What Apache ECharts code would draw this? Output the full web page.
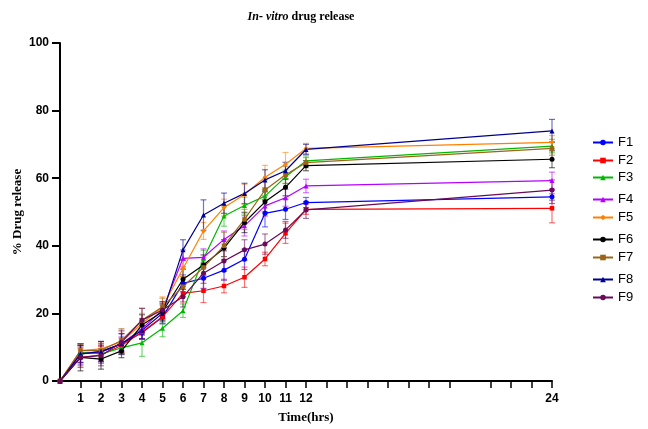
<!DOCTYPE html>
<html><head><meta charset="utf-8">
<script src="https://cdn.jsdelivr.net/npm/echarts@6/dist/echarts.min.js"></script>
<style>html,body{margin:0;padding:0;background:#fff}#c{width:648px;height:429px}</style>
</head><body><div id="c"></div>
<script>
var times = [0,1,2,3,4,5,6,7,8,9,10,11,12,24];
var xCategories = ['0','1','2','3','4','5','6','7','8','9','10','11','12','13','14','15','16','17','18','19','20','21','22','23','24'];
var xTickLabels = ['1','2','3','4','5','6','7','8','9','10','11','12','24'];
var yTicks = [0,20,40,60,80,100];
var names = ['F1','F2','F3','F4','F5','F6','F7','F8','F9'];
var colors = ['#0000ff','#ff0000','#00b800','#b400ff','#ff8000','#000000','#9c6416','#000090','#6a0a5a'];
var symbols = ['circle','rect','triangle','triangle','diamond','circle','rect','triangle','circle'];

var F1 = [0,8,8.7,11,14.3,18.9,28.9,30.4,32.8,36,49.6,50.8,52.8,54.5];
var F2 = [0,7,7.7,10.5,14.5,19,25.9,26.7,28.1,30.7,36.1,43.7,50.8,51.1];
var F3 = [0,8.5,8,9.8,11.3,15.6,20.8,36.2,48.8,51.9,54.7,60.4,65.1,69.5];
var F4 = [0,8,8.5,11,15.5,21,36.3,36.6,41.9,45.9,51.8,54.2,57.7,59.3];
var F5 = [0,9,9.5,11.6,17,21.9,33.3,44.4,51.3,55.2,60.3,64.1,68.8,70.6];
var F6 = [0,7,6.5,8.9,16.6,20.5,30.1,34.3,39.3,46.9,53,57.3,63.7,65.6];
var F7 = [0,9,9,12,18,22,27.9,33.6,40,47.8,56.5,61,64.6,68.8];
var F8 = [0,8,8.7,11,15,20,38.8,49.1,52.6,55.5,59.5,62.2,68.5,74];
var F9 = [0,7,7.5,11.5,18,21,24.9,31.9,35.5,38.8,40.5,44.7,50.6,56.5];

var E1 = [0,3,3,2,2,2,2.5,3,3,3,4,3,1.5,2];
var E2 = [0,2.5,2.5,2,2,2,2.5,3.5,2,3,2,3,1.5,4.3];
var E3 = [0,2,1.5,2,4,2.5,2,2.5,3,2.5,2.5,2,1.5,2];
var E4 = [0,2.5,2.5,3,3,2.5,2.5,2.5,2.5,3,3,2.5,2,2.5];
var E5 = [0,2,2,3,3,3,2.5,2.5,2.5,3,3.5,3.5,1.5,2];
var E6 = [0,4,3,2,3,2.5,3,3,2.5,3,3,2.5,1.5,2.5];
var E7 = [0,2,2,3.5,3.5,2.5,3,3,4,3,3,2.5,1.5,2];
var E8 = [0,2.5,3,3,2.5,2.5,3,4.5,3,3,3,2.5,1.5,3.4];
var E9 = [0,3,3,3.5,3.5,2.5,3,3,3,3,3,2.5,2.5,3];

var vals = [F1,F2,F3,F4,F5,F6,F7,F8,F9];
var errs = [E1,E2,E3,E4,E5,E6,E7,E8,E9];
var legendY = [143,161,178,200,218,240,258,280,298];

var series = [];
var legends = [];
names.forEach(function(n, k){
  var col = colors[k];
  series.push({
    name: n + ' err', type: 'custom', z: 1, silent: true,
    data: times.map(function(t,i){ return [t, vals[k][i]-errs[k][i], vals[k][i]+errs[k][i]]; }),
    encode: {x: 0, y: [1,2]},
    renderItem: function(params, api){
      var lo = api.coord([api.value(0), api.value(1)]);
      var hi = api.coord([api.value(0), api.value(2)]);
      var w = 3;
      var st = {stroke: col, lineWidth: 1.2, opacity: 0.55};
      return {type:'group', children:[
        {type:'line', shape:{x1:lo[0],y1:lo[1],x2:hi[0],y2:hi[1]}, style:st},
        {type:'line', shape:{x1:lo[0]-w,y1:lo[1],x2:lo[0]+w,y2:lo[1]}, style:st},
        {type:'line', shape:{x1:hi[0]-w,y1:hi[1],x2:hi[0]+w,y2:hi[1]}, style:st}
      ]};
    }
  });
  series.push({
    name: n, type: 'line', z: 3,
    data: times.map(function(t,i){ return [t, vals[k][i]]; }),
    symbol: symbols[k], symbolSize: symbols[k]==='rect' ? 4.5 : 5,
    itemStyle: {color: col},
    lineStyle: {color: col, width: 1.2},
    emphasis: {disabled: true},
    animation: false
  });
  legends.push({
    data: [n], orient: 'vertical', left: 592, top: legendY[k]-7,
    itemWidth: 20, itemHeight: 7, padding: 0,
    textStyle: {fontFamily: 'Liberation Sans, Arial', fontSize: 13, color: '#000'},
    selectedMode: false
  });
});

var chart = echarts.init(document.getElementById('c'), null, {renderer: 'canvas'});
chart.setOption({
  animation: false,
  backgroundColor: '#fff',
  title: {
    text: '{i|In- vitro }{b|drug release}',
    left: 296, top: 6, textAlign: 'center',
    textStyle: {
      rich: {
        i: {fontFamily: 'Liberation Serif, Times New Roman', fontStyle: 'italic', fontWeight: 'bold', fontSize: 12, color: '#000'},
        b: {fontFamily: 'Liberation Serif, Times New Roman', fontWeight: 'bold', fontSize: 12, color: '#000'}
      }
    }
  },
  legend: legends,
  grid: {left: 60, right: 96, top: 43, bottom: 48, containLabel: false, outerBoundsMode: 'none'},
  xAxis: {
    type: 'category', data: xCategories, boundaryGap: false,
    name: 'Time(hrs)', nameLocation: 'middle', nameGap: 30, nameMoveOverlap: false,
    nameTextStyle: {fontFamily: 'Liberation Serif, Times New Roman', fontWeight: 'bold', fontSize: 13, color: '#000'},
    axisLine: {lineStyle: {color: '#000', width: 2}},
    axisTick: {show: true, length: 7, lineStyle: {color: '#000', width: 1.5},
      interval: function(i){ return i !== 0 && i !== 20; }},
    axisLabel: {color: '#000', fontFamily: 'Liberation Sans, Arial', fontWeight: 'bold', fontSize: 12, margin: 12,
      interval: function(i, v){ return xTickLabels.indexOf(v) >= 0; }},
    splitLine: {show: false}
  },
  yAxis: {
    type: 'value', min: yTicks[0], max: yTicks[yTicks.length-1], interval: 20,
    name: '% Drug release', nameLocation: 'middle', nameGap: 36, nameMoveOverlap: false,
    nameTextStyle: {fontFamily: 'Liberation Serif, Times New Roman', fontWeight: 'bold', fontSize: 13, color: '#000'},
    axisLine: {show: true, lineStyle: {color: '#000', width: 2}},
    axisTick: {show: true, length: 8, lineStyle: {color: '#000', width: 2}},
    axisLabel: {color: '#000', fontFamily: 'Liberation Sans, Arial', fontWeight: 'bold', fontSize: 12, margin: 11},
    splitLine: {show: false}
  },
  series: series
});
</script></body></html>
